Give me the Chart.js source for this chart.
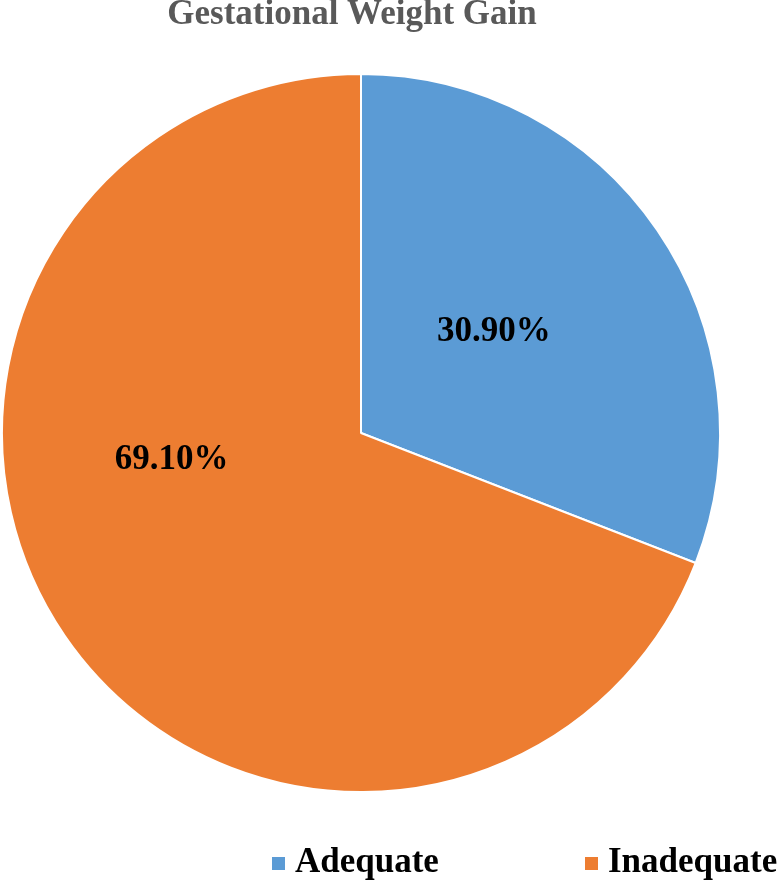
<!DOCTYPE html>
<html>
<head>
<meta charset="utf-8">
<script src="https://cdn.jsdelivr.net/npm/chart.js@4/dist/chart.umd.min.js"></script>
<style>
  html, body { margin: 0; padding: 0; background: #fff; }
  #wrap { width: 779px; height: 882px; position: relative; }
  #fontwarm { position: absolute; left: -2000px; top: 0; font: bold 35px "Liberation Serif"; }
</style>
</head>
<body>
<div id="fontwarm">Gestational Weight Gain 30.90% Adequate</div>
<div id="wrap"><canvas id="myChart" width="779" height="882"></canvas></div>
<script>
const chartTitle = 'Gestational Weight Gain';
const categories = ['Adequate', 'Inadequate'];
const shares = [30.90, 69.10];
const sliceColors = ['#5B9BD5', '#ED7D31'];

const textFont = 'bold 35px "Liberation Serif"';

// text drawn on top: title, % labels, legend
const extrasPlugin = {
    id: 'extras',
    afterDraw(chart, args, opts) {
        const ctx = chart.ctx;
        const meta = chart.getDatasetMeta(0);
        ctx.save();

        // title
        ctx.font = textFont;
        ctx.fillStyle = '#595959';
        ctx.textAlign = 'center';
        ctx.textBaseline = 'alphabetic';
        ctx.fillText(chartTitle, opts.titleX, opts.titleY);

        // percentage labels inside slices
        ctx.fillStyle = '#000';
        ctx.textBaseline = 'middle';
        meta.data.forEach((arc, i) => {
            const p = arc.getProps(['x', 'y', 'startAngle', 'endAngle', 'outerRadius'], true);
            const a = p.startAngle + opts.labelPos[i][0] * (p.endAngle - p.startAngle);
            const r = p.outerRadius * opts.labelPos[i][1];
            const v = chart.data.datasets[0].data[i];
            ctx.fillText(v.toFixed(2) + '%', p.x + Math.cos(a) * r, p.y + Math.sin(a) * r);
        });

        // legend
        ctx.textAlign = 'left';
        ctx.textBaseline = 'alphabetic';
        chart.data.labels.forEach((lab, i) => {
            const x = opts.legendX[i];
            ctx.fillStyle = chart.data.datasets[0].backgroundColor[i];
            ctx.fillRect(x, opts.legendY - 15, 13, 13);
            ctx.fillStyle = '#000';
            ctx.fillText(lab, x + 23, opts.legendY);
        });
        ctx.restore();
    }
};

const ctx = document.getElementById('myChart').getContext('2d');
const myChart = new Chart(ctx, {
    type: 'pie',
    data: {
        labels: categories,
        datasets: [{
            data: shares,
            backgroundColor: sliceColors,
            borderColor: '#fff',
            borderWidth: 2
        }]
    },
    options: {
        responsive: false,
        animation: false,
        layout: { padding: { left: 1, right: 58, top: 73, bottom: 89 } },
        plugins: {
            legend: { display: false },
            title: { display: false },
            tooltip: { enabled: false },
            extras: {
                titleX: 352,
                titleY: 24,
                labelPos: [[0.475, 0.464], [0.606, 0.533]],
                legendX: [272, 585],
                legendY: 872
            }
        }
    },
    plugins: [extrasPlugin]
});

// redraw once the serif face is ready
document.fonts.ready.then(() => myChart.draw());
window.addEventListener('load', () => myChart.draw());
</script>
</body>
</html>
